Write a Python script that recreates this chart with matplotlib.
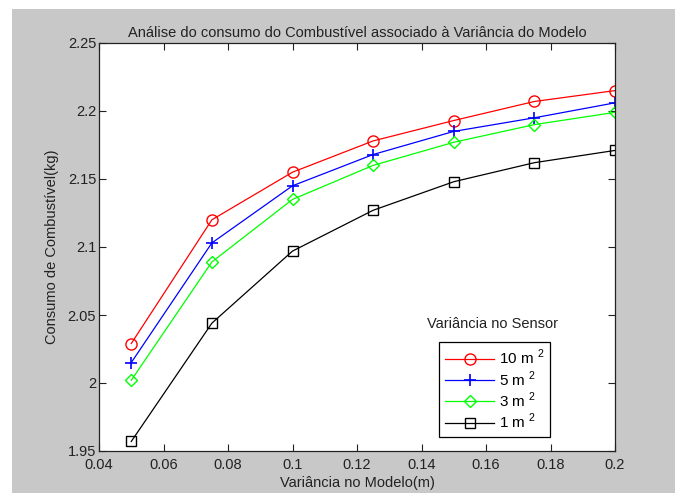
import matplotlib
matplotlib.use("Agg")
import matplotlib.pyplot as plt
from matplotlib.patches import Rectangle

plt.rcParams['font.family'] = ['Liberation Sans', 'DejaVu Sans']
plt.rcParams['mathtext.fontset'] = 'custom'
plt.rcParams['mathtext.rm'] = 'Liberation Sans'

# model variance (x) and fuel consumption per sensor variance
variancia_modelo = [0.05, 0.075, 0.1, 0.125, 0.15, 0.175, 0.2]
consumo_10 = [2.029, 2.120, 2.155, 2.178, 2.193, 2.207, 2.215]
consumo_5 = [2.015, 2.103, 2.145, 2.168, 2.185, 2.195, 2.206]
consumo_3 = [2.002, 2.089, 2.135, 2.160, 2.177, 2.190, 2.199]
consumo_1 = [1.957, 2.044, 2.097, 2.127, 2.148, 2.162, 2.171]

rotulos = ['10 m $^2$', '5 m $^2$', '3 m $^2$', '1 m $^2$']

xticks = [0.04, 0.06, 0.08, 0.1, 0.12, 0.14, 0.16, 0.18, 0.2]
xticklabels = ['0.04', '0.06', '0.08', '0.1', '0.12', '0.14', '0.16', '0.18', '0.2']
yticks = [1.95, 2.0, 2.05, 2.1, 2.15, 2.2, 2.25]
yticklabels = ['1.95', '2', '2.05', '2.1', '2.15', '2.2', '2.25']

fig = plt.figure(figsize=(6.79, 4.97), dpi=100)
fig.patch.set_facecolor('white')
# gray figure panel behind the axes
painel = Rectangle((12 / 679, 4 / 497), 663 / 679, 484 / 497,
                   transform=fig.transFigure, facecolor='#c8c8c8',
                   edgecolor='none', zorder=-10)
fig.add_artist(painel)

ax = fig.add_axes([99 / 679, 46 / 497, 516 / 679, 408 / 497])
ax.set_facecolor('white')

ax.plot(variancia_modelo, consumo_10, '-o', color='red', mfc='none', ms=8, lw=0.9, label=rotulos[0])
ax.plot(variancia_modelo, consumo_5, '-+', color='blue', ms=9, mew=1.2, lw=0.9, label=rotulos[1])
ax.plot(variancia_modelo, consumo_3, '-D', color='#00ff00', mfc='none', ms=6, lw=0.9, label=rotulos[2])
ax.plot(variancia_modelo, consumo_1, '-s', color='black', mfc='none', ms=7, lw=0.9, label=rotulos[3])

ax.set_xlim(0.04, 0.2)
ax.set_ylim(1.95, 2.25)
ax.set_xticks(xticks)
ax.set_xticklabels(xticklabels)
ax.set_yticks(yticks)
ax.set_yticklabels(yticklabels)
ax.tick_params(direction='in', length=5, width=0.8, top=True, right=True,
               labelsize=10.5, colors='#222222')
ax.tick_params(axis='x', pad=5)
ax.tick_params(axis='y', pad=2)
for s in ax.spines.values():
    s.set_linewidth(0.9)
    s.set_color('#222222')

ax.set_title('Análise do consumo do Combustível associado à Variância do Modelo',
             fontsize=10.5, pad=4, color='#222222')
ax.set_xlabel('Variância no Modelo(m)', fontsize=10.5, labelpad=3, color='#222222')
ax.set_ylabel('Consumo de Combustível(kg)', fontsize=10.5, labelpad=6, color='#222222')

leg = ax.legend(loc='upper left', bbox_to_anchor=(0.659, 0.267), borderaxespad=0,
                fancybox=False, edgecolor='black', framealpha=1, fontsize=11,
                handlelength=3.2, handletextpad=0.3, labelspacing=0.12,
                borderpad=0.4)
leg.get_frame().set_linewidth(0.9)
ax.text(0.762, 0.311, 'Variância no Sensor', transform=ax.transAxes,
        ha='center', va='center', fontsize=10.5, color='#222222')

fig.savefig('out.png', dpi=100, facecolor=fig.get_facecolor())
